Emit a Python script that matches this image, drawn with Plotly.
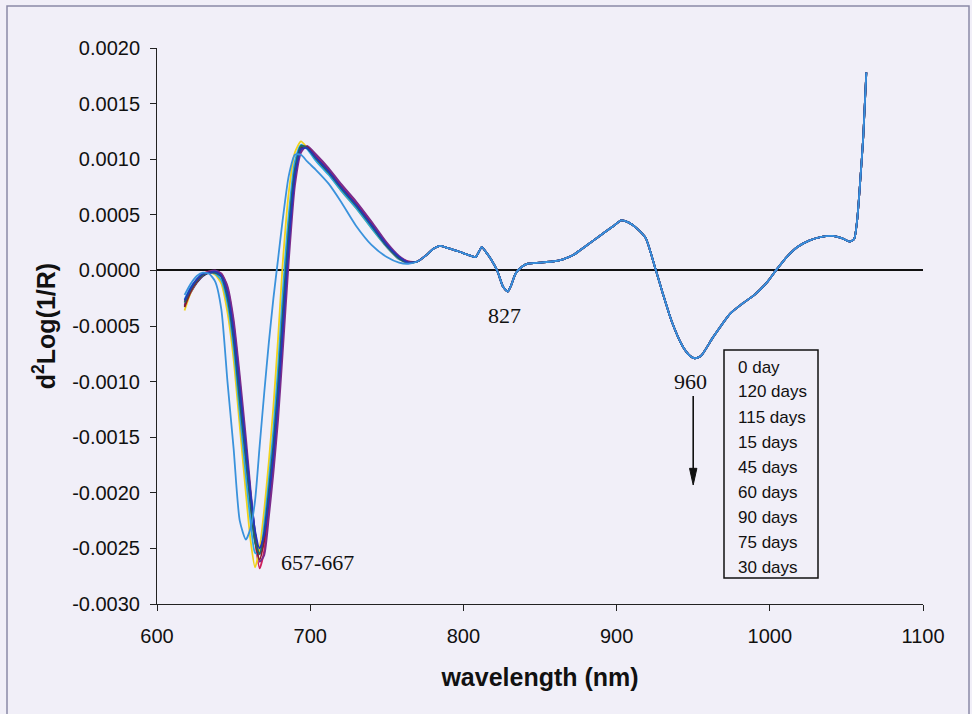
import plotly.graph_objects as go

# Second-derivative spectra, d2 Log(1/R), for samples stored 0-120 days.
# Wavelength grid (nm) of the chlorophyll band region, where the curves separate
HEAD_WL = [618, 622, 626, 630, 634, 638, 642, 646, 650, 654, 658, 661, 664, 667,
           670, 673, 676, 679, 682, 686, 690, 694, 698, 704, 712, 720, 730, 740,
           750, 758, 764]

D_0 = [-0.00032, -0.00020, -0.00011, -0.00005, -0.00002, -0.00001, -0.00004, -0.00018,
       -0.00052, -0.00103, -0.00158, -0.00200, -0.00236, -0.00255, -0.00243, -0.00210,
       -0.00170, -0.00120, -0.00058, 0.00022, 0.00084, 0.00110, 0.00111, 0.00102,
       0.00090, 0.00076, 0.00060, 0.00042, 0.00023, 0.00012, 0.00007]
D_120 = [-0.00028, -0.00016, -0.00008, -0.00003, -0.00001, -0.00001, -0.00003, -0.00016,
         -0.00048, -0.00100, -0.00158, -0.00204, -0.00243, -0.00268, -0.00252, -0.00215,
         -0.00175, -0.00125, -0.00062, 0.00020, 0.00082, 0.00108, 0.00111, 0.00103,
         0.00091, 0.00077, 0.00061, 0.00043, 0.00024, 0.00012, 0.00008]
D_115 = [-0.00036, -0.00020, -0.00010, -0.00004, -0.00002, -0.00004, -0.00012, -0.00038,
         -0.00080, -0.00140, -0.00200, -0.00242, -0.00267, -0.00250, -0.00215, -0.00172,
         -0.00122, -0.00062, 0.00005, 0.00070, 0.00106, 0.00116, 0.00110, 0.00099,
         0.00087, 0.00072, 0.00056, 0.00038, 0.00021, 0.00010, 0.00007]
D_15 = [-0.00026, -0.00015, -0.00008, -0.00003, -0.00002, -0.00003, -0.00009, -0.00030,
        -0.00070, -0.00128, -0.00185, -0.00225, -0.00254, -0.00255, -0.00228, -0.00188,
        -0.00143, -0.00088, -0.00022, 0.00050, 0.00098, 0.00113, 0.00109, 0.00098,
        0.00086, 0.00072, 0.00056, 0.00038, 0.00021, 0.00010, 0.00007]
D_45 = [-0.00031, -0.00019, -0.00010, -0.00004, -0.00001, 0.00000, -0.00003, -0.00014,
        -0.00044, -0.00094, -0.00150, -0.00196, -0.00236, -0.00262, -0.00256, -0.00222,
        -0.00182, -0.00135, -0.00075, 0.00008, 0.00076, 0.00106, 0.00112, 0.00104,
        0.00092, 0.00078, 0.00062, 0.00044, 0.00025, 0.00013, 0.00008]
D_60 = [-0.00033, -0.00019, -0.00010, -0.00004, -0.00002, -0.00002, -0.00005, -0.00022,
        -0.00058, -0.00112, -0.00167, -0.00208, -0.00243, -0.00260, -0.00242, -0.00205,
        -0.00164, -0.00112, -0.00048, 0.00030, 0.00088, 0.00111, 0.00111, 0.00101,
        0.00089, 0.00075, 0.00059, 0.00041, 0.00022, 0.00011, 0.00007]
D_90 = [-0.00029, -0.00017, -0.00009, -0.00004, -0.00002, -0.00002, -0.00006, -0.00025,
        -0.00062, -0.00117, -0.00170, -0.00210, -0.00244, -0.00255, -0.00235, -0.00198,
        -0.00156, -0.00104, -0.00040, 0.00037, 0.00091, 0.00112, 0.00110, 0.00100,
        0.00088, 0.00074, 0.00058, 0.00040, 0.00022, 0.00011, 0.00007]
D_75 = [-0.00027, -0.00016, -0.00008, -0.00003, -0.00002, -0.00001, -0.00005, -0.00020,
        -0.00055, -0.00106, -0.00160, -0.00200, -0.00234, -0.00250, -0.00238, -0.00206,
        -0.00166, -0.00116, -0.00055, 0.00024, 0.00085, 0.00109, 0.00110, 0.00101,
        0.00089, 0.00075, 0.00059, 0.00041, 0.00023, 0.00012, 0.00007]
D_30 = [-0.00022, -0.00012, -0.00005, -0.00002, -0.00003, -0.00010, -0.00035, -0.00100,
        -0.00160, -0.00225, -0.00242, -0.00232, -0.00207, -0.00158, -0.00110, -0.00065,
        -0.00025, 0.00010, 0.00045, 0.00085, 0.00104, 0.00104, 0.00098, 0.00090,
        0.00078, 0.00062, 0.00040, 0.00023, 0.00012, 0.00007, 0.00006]

# Beyond ~765 nm all storage times give practically the same spectrum
TAIL_WL = [770, 776, 780, 785, 790, 797, 803, 808, 812, 815, 818, 822, 826, 829, 831,
           834, 838, 842, 850, 858, 865, 872, 878, 885, 892, 898, 903, 908, 913, 919,
           925, 930, 936, 943, 948, 951, 955, 963, 974, 982, 990, 998, 1004, 1011,
           1018, 1026, 1033, 1041, 1047, 1052, 1055, 1057, 1059, 1061, 1063]
TAIL_VAL = [0.00008, 0.00014, 0.00019, 0.00022, 0.00020, 0.00017, 0.00014, 0.00012,
            0.00021, 0.00016, 0.00010, 0.00000, -0.00015, -0.00019, -0.00014, -0.00003,
            0.00003, 0.00006, 0.00007, 0.00008, 0.00010, 0.00014, 0.00020, 0.00027,
            0.00034, 0.00040, 0.00045, 0.00043, 0.00038, 0.00029, 0.00003, -0.00020,
            -0.00046, -0.00068, -0.00077, -0.00079, -0.00077, -0.00060, -0.00039,
            -0.00030, -0.00022, -0.00011, 0.00000, 0.00012, 0.00021, 0.00027, 0.00030,
            0.00031, 0.00029, 0.00026, 0.00028, 0.00045, 0.00080, 0.00120, 0.00178]

SERIES_NAMES = ["0 day", "120 days", "115 days", "15 days", "45 days",
                "60 days", "90 days", "75 days", "30 days"]
SERIES_HEADS = [D_0, D_120, D_115, D_15, D_45, D_60, D_90, D_75, D_30]
SERIES_COLORS = ["#1d2470", "#cf1f5c", "#f0d21c", "#2ba6e4", "#7b2c8c",
                 "#8c1c2e", "#1f6b60", "#2338b8", "#3a92dc"]

Y_TICKS = [-0.0030, -0.0025, -0.0020, -0.0015, -0.0010, -0.0005,
           0.0000, 0.0005, 0.0010, 0.0015, 0.0020]
Y_TICK_LABELS = ["-0.0030", "-0.0025", "-0.0020", "-0.0015", "-0.0010", "-0.0005",
                 "0.0000", "0.0005", "0.0010", "0.0015", "0.0020"]
X_TICKS = [600, 700, 800, 900, 1000, 1100]

BG = "#f1eff8"
SANS = "Liberation Sans, Arial, sans-serif"
SERIF = "Liberation Serif, Times New Roman, serif"

fig = go.Figure()
for name, head, color in zip(SERIES_NAMES, SERIES_HEADS, SERIES_COLORS):
    fig.add_trace(go.Scatter(
        x=HEAD_WL + TAIL_WL, y=head + TAIL_VAL, name=name, mode="lines",
        line=dict(color=color, width=1.8, shape="spline", smoothing=0.6),
        showlegend=False,
    ))

# plot area spans 766 x 556 px; legend rows are laid out in paper units
PW, PH = 766.0, 556.0
box_l, box_r, box_t, box_b = 724, 818, 350, 578
shapes = [
    dict(type="rect", xref="paper", yref="paper",
         x0=(box_l - 157) / PW, x1=(box_r - 157) / PW,
         y0=(604 - box_b) / PH, y1=(604 - box_t) / PH,
         line=dict(color="#111111", width=1.5), fillcolor=BG, layer="above"),
    dict(type="rect", xref="paper", yref="paper",
         x0=(7 - 157) / PW, x1=(969 - 157) / PW,
         y0=(604 - 740) / PH, y1=(604 - 6) / PH,
         line=dict(color="#8a8aa6", width=1.5), layer="below"),
    # downward arrow under the 960 label
    dict(type="line", xref="x", yref="y", x0=950, x1=950, y0=-0.00113, y1=-0.00180,
         line=dict(color="#111111", width=1.6)),
    dict(type="path", xref="x", yref="y",
         path="M 947.6,-0.00178 L 952.4,-0.00178 L 950,-0.00193 Z",
         fillcolor="#111111", line=dict(color="#111111", width=1)),
]

annotations = []
for i, name in enumerate(SERIES_NAMES):
    annotations.append(dict(
        xref="paper", yref="paper", x=(736 - 157) / PW, y=(604 - (367 + 25.0 * i)) / PH,
        text=name, showarrow=False, xanchor="left", yanchor="middle",
        font=dict(family=SANS, size=17, color="#111111"),
    ))

annotations += [
    dict(x=827, y=-0.00041, xref="x", yref="y", text="827", showarrow=False,
         font=dict(family=SERIF, size=22, color="#111111")),
    dict(x=948, y=-0.00100, xref="x", yref="y", text="960", showarrow=False,
         font=dict(family=SERIF, size=22, color="#111111")),
    dict(x=705, y=-0.00263, xref="x", yref="y", text="657-667", showarrow=False,
         font=dict(family=SERIF, size=22, color="#111111")),
]

fig.update_layout(
    width=972, height=714,
    margin=dict(l=157, r=49, t=48, b=110),
    paper_bgcolor=BG, plot_bgcolor=BG,
    shapes=shapes, annotations=annotations,
    xaxis=dict(
        range=[600, 1100], tickvals=X_TICKS, ticks="outside", ticklen=6,
        tickcolor="#222222", showline=True, linecolor="#222222", linewidth=1,
        showgrid=False, zeroline=False, ticklabelstandoff=8,
        tickfont=dict(family=SANS, size=20, color="#111111"),
        title=dict(text="<b>wavelength (nm)</b>", standoff=22,
                   font=dict(family=SANS, size=25, color="#111111")),
    ),
    yaxis=dict(
        range=[-0.0030, 0.0020], tickvals=Y_TICKS, ticktext=Y_TICK_LABELS,
        ticks="outside", ticklen=6, tickcolor="#222222", showline=True,
        linecolor="#222222", linewidth=1, showgrid=False,
        zeroline=True, zerolinecolor="#111111", zerolinewidth=1.6,
        ticklabelstandoff=6,
        tickfont=dict(family=SANS, size=20, color="#111111"),
        title=dict(text="<b>d<sup>2</sup>Log(1/R)</b>", standoff=9,
                   font=dict(family=SANS, size=25, color="#111111")),
    ),
)

fig.write_html("out.html")
